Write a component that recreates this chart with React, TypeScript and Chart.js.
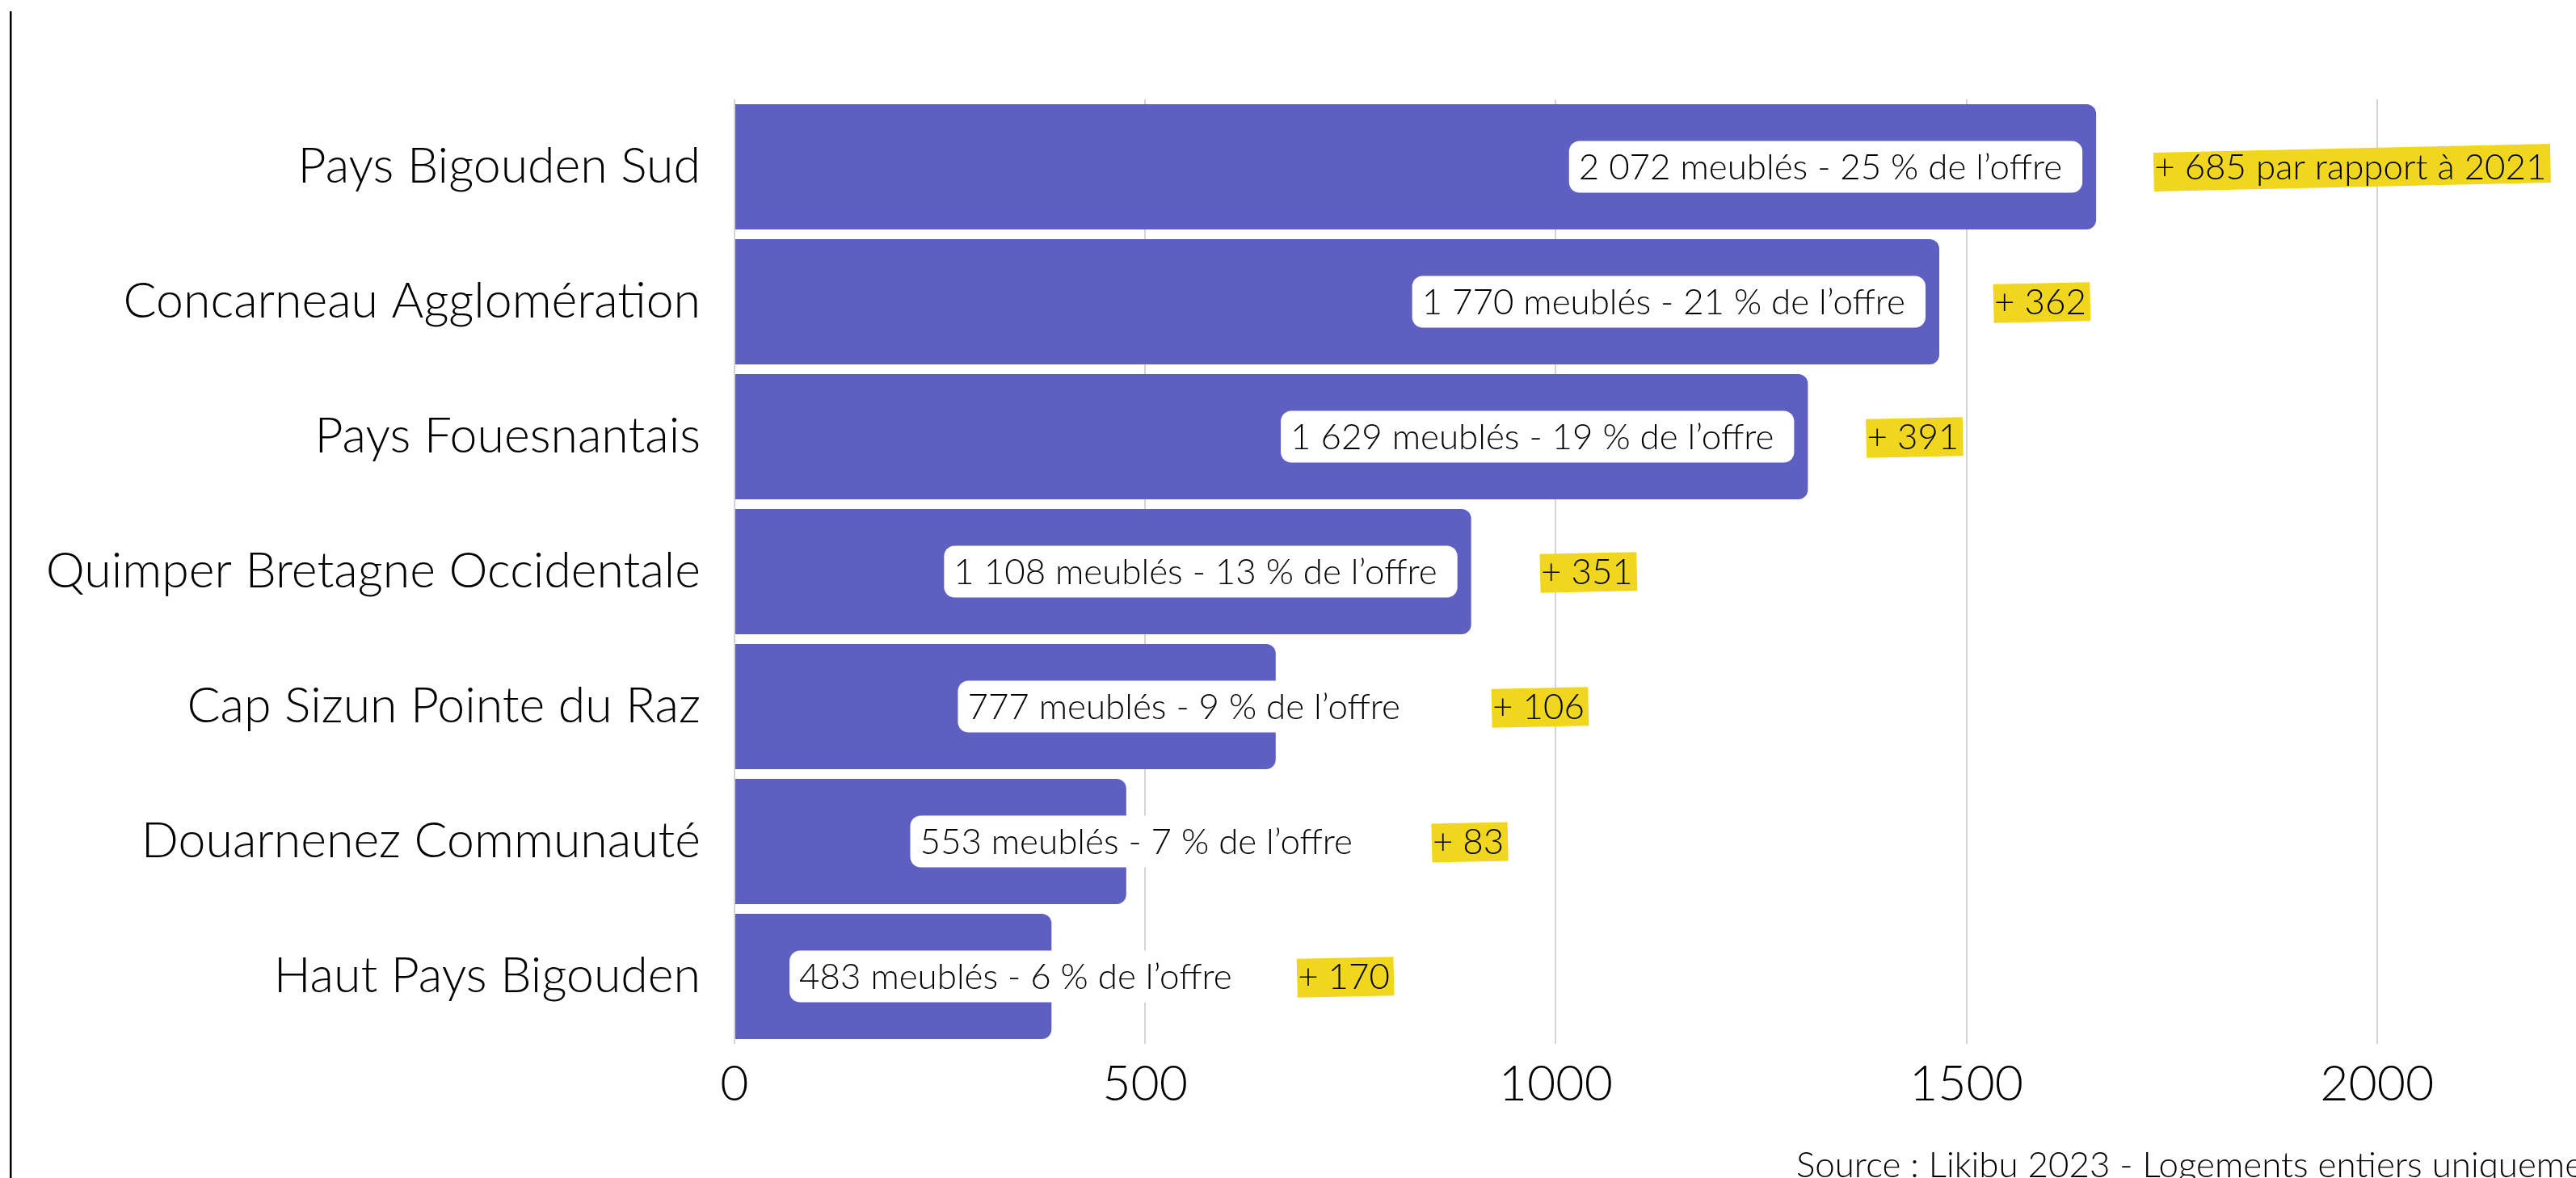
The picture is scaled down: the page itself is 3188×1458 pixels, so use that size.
import React, { useEffect, useRef } from 'react';
import { Chart, registerables } from 'chart.js';

Chart.register(...registerables);

// ---------- data ----------
const categories = [
  'Pays Bigouden Sud',
  'Concarneau Agglomération',
  'Pays Fouesnantais',
  'Quimper Bretagne Occidentale',
  'Cap Sizun Pointe du Raz',
  'Douarnenez Communauté',
  'Haut Pays Bigouden',
];
const barValues = [1658, 1467, 1307, 897, 659, 477, 386];
const valueLabels = [
  '2 072 meublés - 25 % de l’offre',
  '1 770 meublés - 21 % de l’offre',
  '1 629 meublés - 19 % de l’offre',
  '1 108 meublés - 13 % de l’offre',
  '777 meublés - 9 % de l’offre',
  '553 meublés - 7 % de l’offre',
  '483 meublés - 6 % de l’offre',
];
const deltaLabels = ['+ 685 par rapport à 2021', '+ 362', '+ 391', '+ 351', '+ 106', '+ 83', '+ 170'];
// annotation anchors, in axis units (null = label sits inside the bar, against its end)
const labelStartAt: (number | null)[] = [null, null, null, null, 272, 214, 67];
const deltaStartAt = [1729, 1534, 1379, 982, 923, 850, 686];
const xTicks = [0, 500, 1000, 1500, 2000];
const xMax = 2200;
const sourceText = 'Source : Likibu 2023 - Logements entiers uniquement';

// ---------- style ----------
const FONT = 'Lato';
const WEIGHT = 300;
const BAR = '#5f5fc2';
const YELLOW = '#f1d61f';
const GRID = '#d4d4d4';
const INK = '#000000';

function fitSize(text: string, target: number) {
  const c = document.createElement('canvas').getContext('2d')!;
  c.font = `${WEIGHT} 100px ${FONT}`;
  return (100 * target) / c.measureText(text).width;
}

export default function App() {
  const ref = useRef<HTMLCanvasElement | null>(null);

  useEffect(() => {
    document.body.style.margin = '0';
    let chart: Chart | null = null;
    let cancelled = false;

    const build = () => {
      if (cancelled || !ref.current) return;
      const catSize = Math.round(fitSize('Concarneau Agglomération', 715) * 10) / 10;
      const lblSize = Math.round(fitSize('777 meublés - 9 % de l’offre', 536) * 10) / 10;

      const annotations = {
        id: 'annotations',
        afterDatasetsDraw(c: any) {
          const ctx = c.ctx as CanvasRenderingContext2D;
          const xs = c.scales.x;
          const meta = c.getDatasetMeta(0);
          ctx.save();
          ctx.font = `${WEIGHT} ${lblSize}px ${FONT}`;
          ctx.textBaseline = 'alphabetic';
          ctx.textAlign = 'left';
          const capOff = lblSize * 0.36;
          meta.data.forEach((bar: any, i: number) => {
            const cy = bar.y;
            const text = valueLabels[i];
            const tw = ctx.measureText(text).width;
            const bw = tw + 12 + 25;
            const bh = 64;
            const start = labelStartAt[i];
            const left = start == null ? bar.x - 17 - bw : xs.getPixelForValue(start);
            ctx.fillStyle = '#ffffff';
            ctx.beginPath();
            (ctx as any).roundRect(left, cy - bh / 2, bw, bh, 13);
            ctx.fill();
            ctx.fillStyle = INK;
            ctx.fillText(text, left + 12, cy + capOff);

            const dx = xs.getPixelForValue(deltaStartAt[i]);
            const dt = deltaLabels[i];
            const dw = ctx.measureText(dt).width;
            const hw = dw + 6;
            ctx.save();
            ctx.translate(dx - 1 + hw / 2, cy + 1);
            ctx.rotate((-1.3 * Math.PI) / 180);
            ctx.fillStyle = YELLOW;
            ctx.fillRect(-hw / 2, -24, hw, 48);
            ctx.restore();
            ctx.fillStyle = INK;
            ctx.fillText(dt, dx, cy + capOff);
          });
          ctx.restore();
        },
        afterDraw(c: any) {
          const ctx = c.ctx as CanvasRenderingContext2D;
          ctx.save();
          ctx.fillStyle = '#000';
          ctx.fillRect(12, 14, 2.5, c.height - 14);
          ctx.font = `${WEIGHT} ${lblSize}px ${FONT}`;
          ctx.fillStyle = INK;
          ctx.textAlign = 'left';
          ctx.textBaseline = 'alphabetic';
          ctx.fillText(sourceText, 2223, 1457);
          ctx.restore();
        },
      };

      chart = new Chart(ref.current, {
        type: 'bar',
        data: {
          labels: categories,
          datasets: [
            {
              data: barValues,
              backgroundColor: BAR,
              borderWidth: 0,
              borderRadius: 12,
              barPercentage: 0.928,
              categoryPercentage: 1,
            },
          ],
        },
        options: {
          indexAxis: 'y',
          responsive: false,
          animation: false,
          devicePixelRatio: 1,
          layout: { padding: { top: 123, right: 43, bottom: 76, left: 0 } },
          plugins: { legend: { display: false }, tooltip: { enabled: false } },
          scales: {
            x: {
              min: 0,
              max: xMax,
              afterBuildTicks: (s: any) => {
                s.ticks = xTicks.map((v) => ({ value: v }));
              },
              afterFit: (s: any) => {
                s.height = 90;
              },
              grid: { color: GRID, lineWidth: 2, drawTicks: false },
              border: { display: false },
              ticks: {
                font: { family: FONT, size: catSize, weight: WEIGHT },
                color: INK,
                padding: 14,
                maxRotation: 0,
                autoSkip: false,
                callback: (v: any) => String(v),
              },
            },
            y: {
              afterFit: (s: any) => {
                s.width = 909;
              },
              grid: { display: false, drawTicks: false },
              border: { display: false },
              ticks: {
                font: { family: FONT, size: catSize, weight: WEIGHT },
                color: INK,
                padding: 42,
                autoSkip: false,
              },
            },
          },
        },
        plugins: [annotations],
      } as any);
    };

    const fonts: any = (document as any).fonts;
    if (fonts && fonts.load) {
      Promise.all([fonts.load(`${WEIGHT} 60px ${FONT}`)]).then(build, build);
    } else build();

    return () => {
      cancelled = true;
      if (chart) chart.destroy();
    };
  }, []);

  return (
    <div style={{ width: 3188, height: 1458, position: 'relative', background: '#fff' }}>
      <canvas ref={ref} width={3188} height={1458} style={{ width: 3188, height: 1458, display: 'block' }} />
    </div>
  );
}
